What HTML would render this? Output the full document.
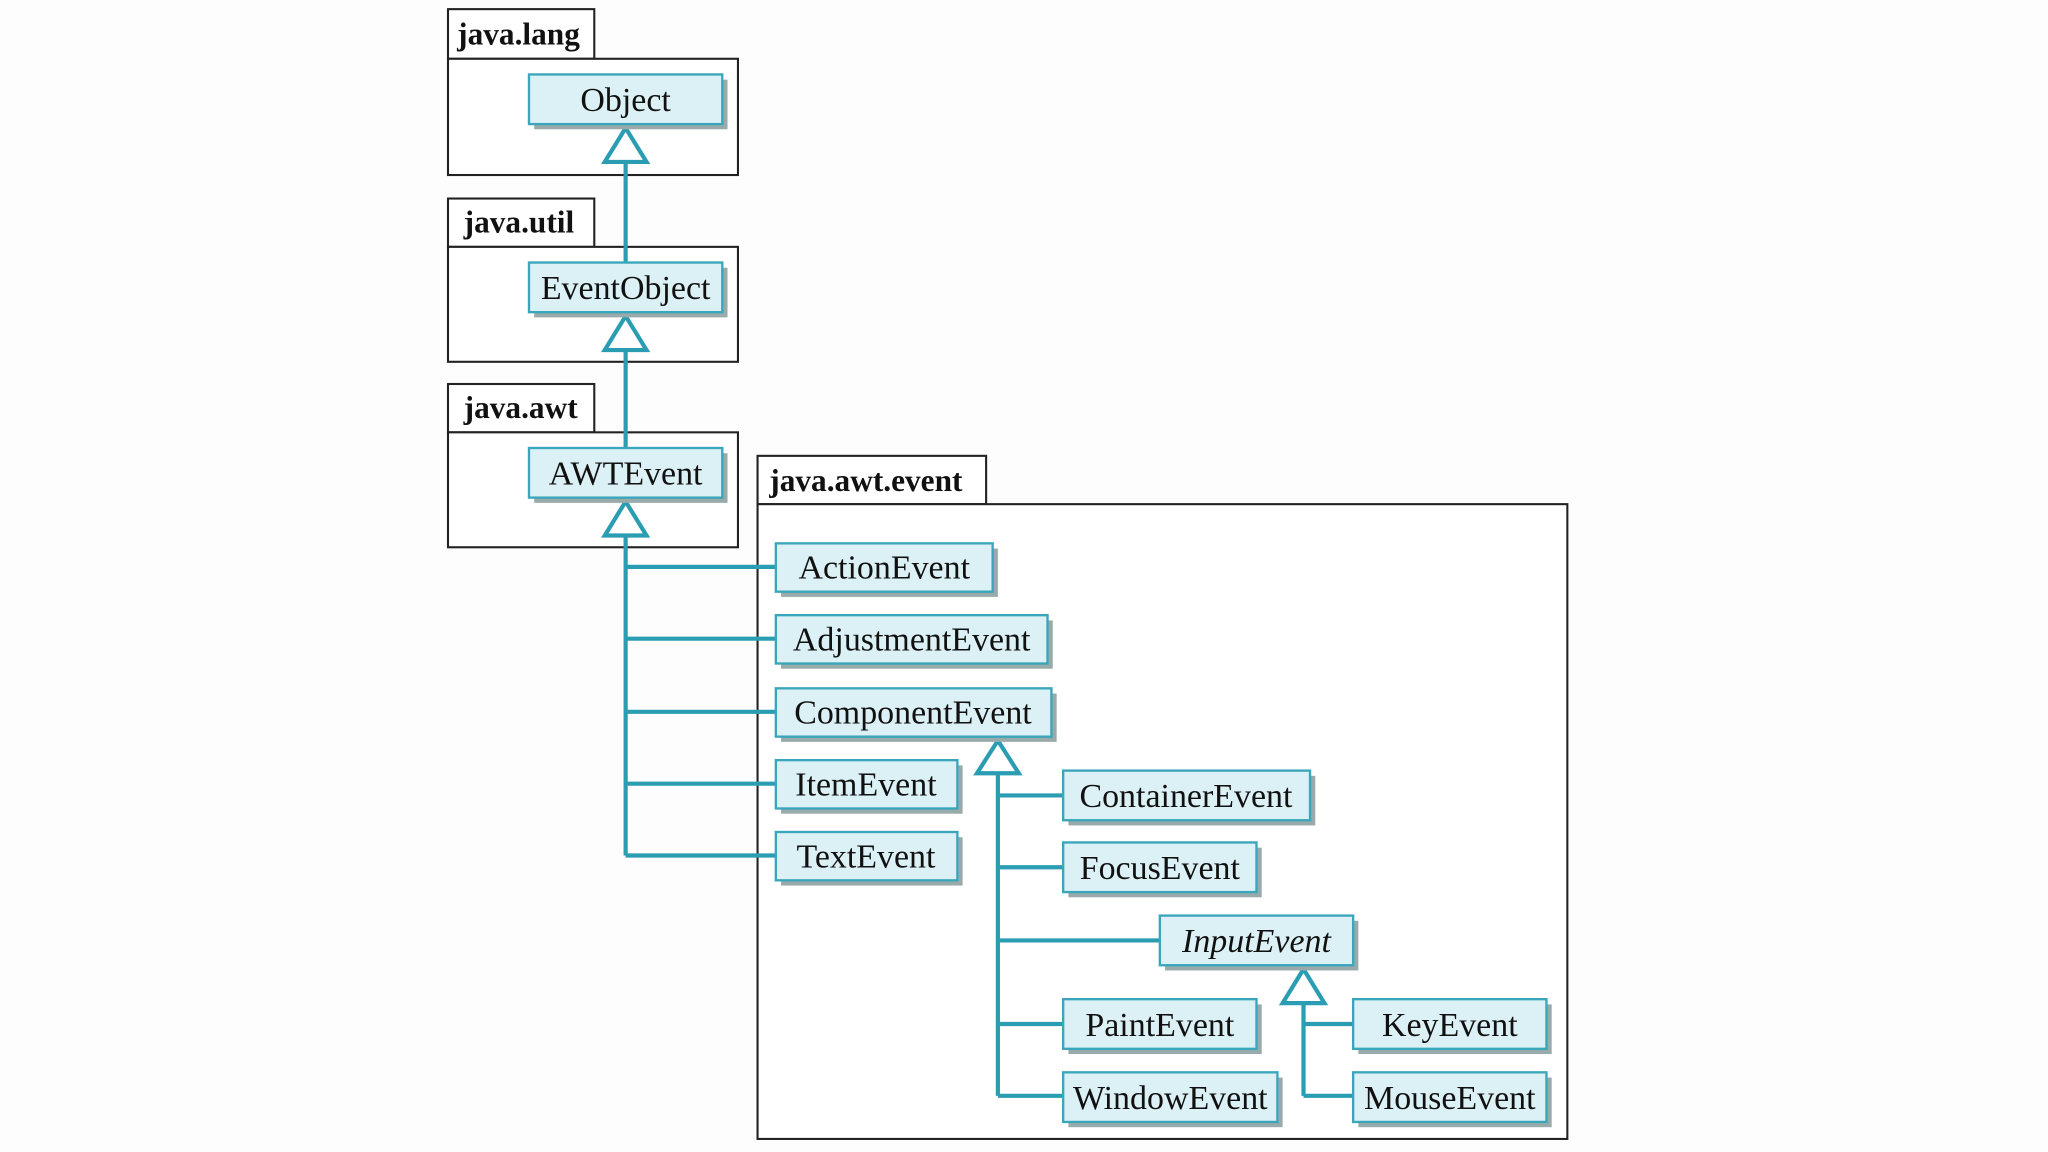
<!DOCTYPE html>
<html><head><meta charset="utf-8"><style>
html,body{margin:0;padding:0;background:#fff;}
svg{display:block;}
text{font-family:"Liberation Serif",serif;}
</style></head><body>
<svg width="2048" height="1152" viewBox="0 0 1568 882" preserveAspectRatio="none" xmlns="http://www.w3.org/2000/svg">
<rect width="1568" height="882" fill="#fdfdfd"/>
<g fill="#fff" stroke="#222" stroke-width="1.6">
<rect x="343" y="7" width="112" height="38"/><rect x="343" y="45" width="222" height="89"/>
<rect x="343" y="152" width="112" height="37"/><rect x="343" y="189" width="222" height="88"/>
<rect x="343" y="294" width="112" height="37"/><rect x="343" y="331" width="222" height="88"/>
<rect x="580" y="349" width="175" height="37"/><rect x="580" y="386" width="620" height="486"/>
</g>
<g font-weight="bold" font-size="24" fill="#111">
<text x="350" y="34">java.lang</text>
<text x="355" y="178">java.util</text>
<text x="355" y="320">java.awt</text>
<text x="589" y="376">java.awt.event</text>
</g>
<g stroke="#2a9db3" stroke-width="3.2" fill="none">
<line x1="479" y1="124" x2="479" y2="201"/>
<line x1="479" y1="268" x2="479" y2="343"/>
<line x1="479" y1="410" x2="479" y2="655"/>
<path d="M479 434H594M479 489H594M479 545H594M479 600H594M479 655H594"/>
<line x1="764" y1="592" x2="764" y2="839"/>
<path d="M764 609H814M764 664H814M764 720H888M764 784H814M764 839H814"/>
<line x1="998" y1="768" x2="998" y2="839"/>
<path d="M998 784H1036M998 839H1036"/>
</g>
<g stroke="#2a9db3" stroke-width="3.2" fill="#fff">
<polygon points="479,98 463,124 495,124"/>
<polygon points="479,242 463,268 495,268"/>
<polygon points="479,384 463,410 495,410"/>
<polygon points="764,567 748,592 780,592"/>
<polygon points="998,742 982,768 1014,768"/>
</g>
<g font-size="26" fill="#111" text-anchor="middle">
<g fill="#9aa"><rect x="409" y="61" width="148" height="38"/><rect x="409" y="205" width="148" height="38"/><rect x="409" y="347" width="148" height="38"/>
<rect x="598" y="420" width="166" height="37"/><rect x="598" y="475" width="208" height="37"/><rect x="598" y="531" width="211" height="37"/><rect x="598" y="586" width="139" height="37"/><rect x="598" y="641" width="139" height="37"/>
<rect x="818" y="594" width="189" height="38"/><rect x="818" y="649" width="148" height="38"/><rect x="892" y="705" width="148" height="38"/><rect x="818" y="769" width="148" height="38"/><rect x="818" y="825" width="164" height="38"/><rect x="1040" y="769" width="148" height="38"/><rect x="1040" y="825" width="148" height="38"/></g>
<g fill="#dcf1f6" stroke="#3aa6bb" stroke-width="1.8">
<rect x="405" y="57" width="148" height="38"/><rect x="405" y="201" width="148" height="38"/><rect x="405" y="343" width="148" height="38"/>
<rect x="594" y="416" width="166" height="37"/><rect x="594" y="471" width="208" height="37"/><rect x="594" y="527" width="211" height="37"/><rect x="594" y="582" width="139" height="37"/><rect x="594" y="637" width="139" height="37"/>
<rect x="814" y="590" width="189" height="38"/><rect x="814" y="645" width="148" height="38"/><rect x="888" y="701" width="148" height="38"/><rect x="814" y="765" width="148" height="38"/><rect x="814" y="821" width="164" height="38"/><rect x="1036" y="765" width="148" height="38"/><rect x="1036" y="821" width="148" height="38"/></g>
<text x="479" y="85">Object</text>
<text x="479" y="229">EventObject</text>
<text x="479" y="371">AWTEvent</text>
<text x="677" y="443">ActionEvent</text>
<text x="698" y="498">AdjustmentEvent</text>
<text x="699" y="554">ComponentEvent</text>
<text x="663" y="609">ItemEvent</text>
<text x="663" y="664">TextEvent</text>
<text x="908" y="618">ContainerEvent</text>
<text x="888" y="673">FocusEvent</text>
<text x="962" y="729" font-style="italic">InputEvent</text>
<text x="888" y="793">PaintEvent</text>
<text x="896" y="849">WindowEvent</text>
<text x="1110" y="793">KeyEvent</text>
<text x="1110" y="849">MouseEvent</text>
</g>
</svg>
</body></html>
